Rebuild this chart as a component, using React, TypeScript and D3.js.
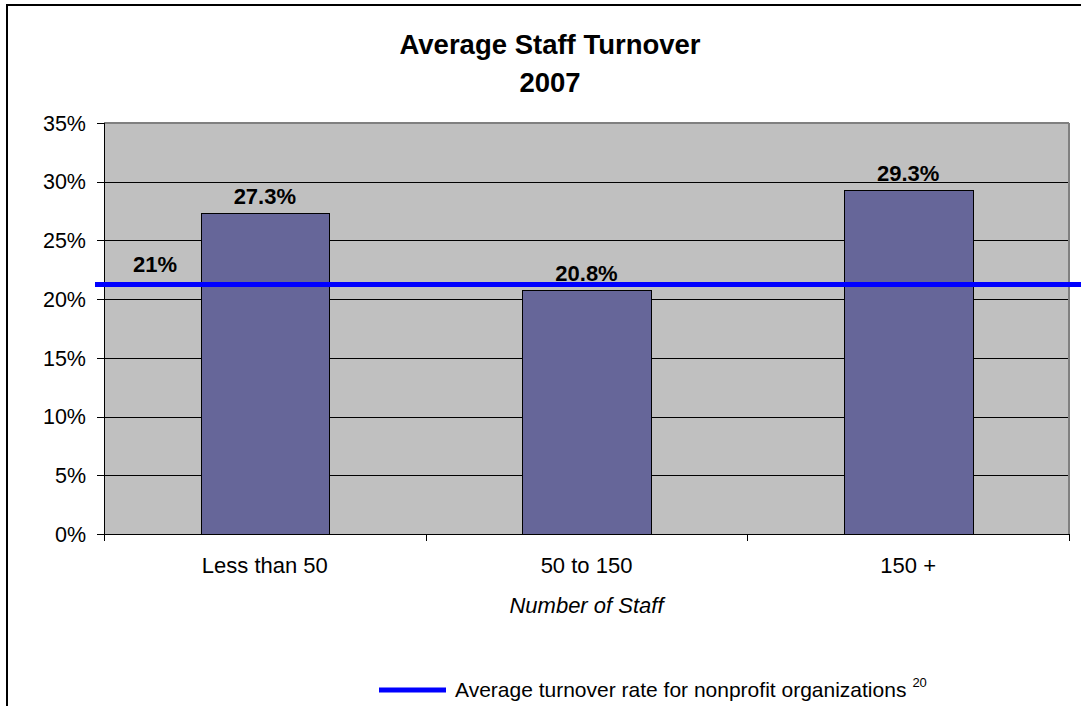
import React from "react";
import * as d3 from "d3";

const categories = ["Less than 50", "50 to 150", "150 +"];
const turnover = [27.3, 20.8, 29.3];
const barLabels = ["27.3%", "20.8%", "29.3%"];
const yTicks = [0, 5, 10, 15, 20, 25, 30, 35];
const averageRate = 21.25;
const averageLabel = "21%";
const titleLines = ["Average Staff Turnover", "2007"];
const xTitle = "Number of Staff";
const legendText = "Average turnover rate for nonprofit organizations";
const legendSup = "20";

const W = 1081;
const H = 706;
const FONT = "'Liberation Sans', Arial, Helvetica, sans-serif";

export default function App() {
  const left = 104;
  const right = 1069;
  const top = 123;
  const bottom = 534;

  const x = d3.scaleBand<string>().domain(categories).range([left, right]).paddingInner(0).paddingOuter(0);
  const y = d3.scaleLinear().domain([0, 35]).range([bottom, top]);
  const bw = x.bandwidth() * 0.4;
  const boundaries = [left, ...categories.map((c) => (x(c) as number) + x.bandwidth())];
  const avgY = y(averageRate);
  const crisp = (v: number) => Math.round(v) + 0.5;

  return (
    <svg
      width={W}
      height={H}
      style={{ position: "absolute", left: 0, top: 0, background: "#fff" }}
      fontFamily={FONT}
    >
      <rect x={0} y={0} width={W} height={H} fill="#fff" />
      {/* chart border */}
      <path d={`M7,${H + 2} V5 H${W + 2}`} fill="none" stroke="#000" strokeWidth={2} />

      {/* title */}
      {titleLines.map((t, i) => (
        <text key={t} x={550} y={54 + i * 38} textAnchor="middle" fontSize={27.5} fontWeight="bold" fill="#000">
          {t}
        </text>
      ))}

      {/* plot area */}
      <rect x={left} y={top} width={right - left} height={bottom - top} fill="#C0C0C0" />
      {yTicks
        .filter((t) => t > 0 && t < 35)
        .map((t) => (
          <line key={t} x1={left} x2={right} y1={crisp(y(t))} y2={crisp(y(t))} stroke="#000" strokeWidth={1} />
        ))}
      <line x1={left} x2={right} y1={top} y2={top} stroke="#808080" strokeWidth={2} />
      <line x1={right} x2={right} y1={top} y2={bottom} stroke="#808080" strokeWidth={2} />

      {/* bars */}
      {categories.map((c, i) => {
        const cx = (x(c) as number) + x.bandwidth() / 2;
        const x0 = crisp(cx - bw / 2);
        const x1 = crisp(cx + bw / 2);
        const y0 = crisp(y(turnover[i]));
        return (
          <g key={c}>
            <rect
              x={x0}
              y={y0}
              width={x1 - x0}
              height={crisp(bottom) - y0}
              fill="#666699"
              stroke="#000"
              strokeWidth={1}
            />
            <text x={cx} y={y(turnover[i]) - 9} textAnchor="middle" fontSize={22} fontWeight="bold" fill="#000">
              {barLabels[i]}
            </text>
            <text x={cx} y={573} textAnchor="middle" fontSize={22} fill="#000">
              {c}
            </text>
          </g>
        );
      })}

      {/* axes */}
      <line x1={crisp(left)} x2={crisp(left)} y1={top} y2={crisp(bottom)} stroke="#000" strokeWidth={1} />
      <line x1={left} x2={right} y1={crisp(bottom)} y2={crisp(bottom)} stroke="#000" strokeWidth={1} />
      {yTicks.map((t) => (
        <g key={t}>
          <line x1={97} x2={left} y1={crisp(y(t))} y2={crisp(y(t))} stroke="#000" strokeWidth={1} />
          <text x={86} y={y(t)} dy="0.36em" textAnchor="end" fontSize={21.5} fill="#000">
            {`${t}%`}
          </text>
        </g>
      ))}
      {boundaries.map((b, i) => (
        <line key={i} x1={crisp(b)} x2={crisp(b)} y1={bottom} y2={bottom + 7} stroke="#000" strokeWidth={1} />
      ))}
      <text x={(left + right) / 2} y={613} textAnchor="middle" fontSize={22} fontStyle="italic" fill="#000">
        {xTitle}
      </text>

      {/* average line */}
      <line x1={95} x2={W} y1={avgY} y2={avgY} stroke="#0000FF" strokeWidth={5} />
      <text x={155} y={avgY - 12} textAnchor="middle" fontSize={22} fontWeight="bold" fill="#000">
        {averageLabel}
      </text>

      {/* legend */}
      <line x1={379} x2={446} y1={690} y2={690} stroke="#0000FF" strokeWidth={5} />
      <text x={455} y={697} fontSize={21} fill="#000">
        {legendText}
        <tspan dx={6} dy={-10} fontSize={13}>
          {legendSup}
        </tspan>
      </text>
    </svg>
  );
}
